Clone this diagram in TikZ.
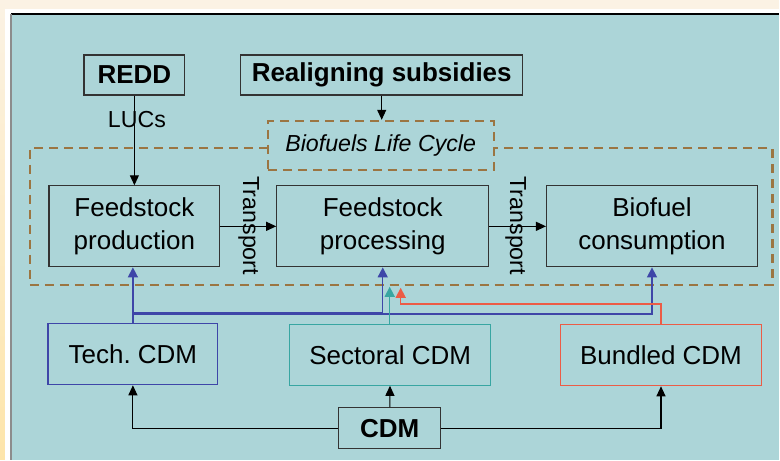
\documentclass[tikz,border=0pt]{standalone}
\usepackage{fontspec}
\setmainfont{Liberation Sans}
\usetikzlibrary{arrows.meta}

\definecolor{panelbg}{RGB}{172,213,216}
\definecolor{creambg}{RGB}{251,242,228}
\definecolor{creamlow}{RGB}{253,229,170}
\definecolor{cyclebrown}{RGB}{155,117,66}
\definecolor{techblue}{RGB}{62,70,168}
\definecolor{sectteal}{RGB}{56,166,162}
\definecolor{bundred}{RGB}{236,92,70}

\begin{document}
\begin{tikzpicture}[x=0.5pt,y=-0.5pt]
        \tikzstyle{every node}=[inner sep=0pt, align=center]
        \tikzstyle{box}=[draw=black!80, line width=0.6pt, font=\fontsize{13}{16.5}\selectfont]
        \tikzstyle{boldbox}=[box, font=\fontsize{13}{16}\selectfont\bfseries]
        \tikzstyle{cdmbox}=[box, minimum width=100.5pt, minimum height=30.5pt]
        \tikzstyle{tag}=[font=\fontsize{11.6}{14}\selectfont]
        \tikzstyle{cycleline}=[draw=cyclebrown, line width=1.1pt, dash pattern=on 4.5pt off 3pt]
        \tikzstyle{link}=[line width=0.55pt, -{Triangle[length=5pt,width=4.5pt]}]
        \tikzstyle{colorlink}=[line width=0.75pt, -{Triangle[length=5pt,width=5pt]}]

        % background
        \fill[creambg] (0,0) rectangle (780,460);
        \shade[top color=creambg, bottom color=creamlow] (0,0) rectangle (5,460);
        \fill[white] (5,9) rectangle (780,460);
        \fill[panelbg] (11,14) rectangle (780,460);
        \draw[black, line width=0.6pt] (11,14) -- (780,14);
        \draw[black!45, line width=0.6pt] (11,14) -- (11,460);
        \useasboundingbox (0,0) rectangle (780,460);

        % top boxes
        \node[boldbox, minimum width=50.5pt, minimum height=20pt] (redd) at (134.5,75) {REDD};
        \node[boldbox, minimum width=141pt, minimum height=20pt] (subsidies) at (382,75) {Realigning subsidies};

        % life cycle frame
        \draw[cycleline] (268,148) -- (30,148) -- (30,285) -- (773,285) -- (773,148) -- (494,148);
        \node[cycleline, minimum width=113pt, minimum height=24.5pt, tag, font=\fontsize{11.6}{14}\selectfont\itshape] (cycle) at (381,145.5) {Biofuels Life Cycle};

        \node[box, minimum width=85.5pt, minimum height=40.5pt] (production) at (134.5,226.5) {Feedstock\\production};
        \node[box, minimum width=106pt, minimum height=40.5pt] (processing) at (383,226.5) {Feedstock\\processing};
        \node[box, minimum width=105.5pt, minimum height=40.5pt] (consumption) at (652.5,226.5) {Biofuel\\consumption};

        % CDM boxes
        \node[cdmbox, draw=techblue, minimum width=85pt] (tech) at (133,354.5) {Tech.\ CDM};
        \node[cdmbox, draw=sectteal] (sectoral) at (390.5,355) {Sectoral CDM};
        \node[cdmbox, draw=bundred] (bundled) at (661.5,355.5) {Bundled CDM};
        \node[boldbox, minimum width=51pt, minimum height=20.5pt] (cdm) at (390,428.5) {CDM};

        % black links
        \draw[link] (redd) -- (production);
        \node[tag] (lucs) at (137,120) {LUCs};
        \draw[link] (subsidies.south) -- (subsidies.south |- cycle.north);
        \draw[link] (production) -- (processing);
        \draw[link] (processing) -- (consumption);
        \node[tag, rotate=-90] (transport1) at (249,226) {Transport};
        \node[tag, rotate=-90] (transport2) at (516,226) {Transport};
        \draw[link] (cdm) -| (tech);
        \draw[link] (cdm) -- (sectoral);
        \draw[link] (cdm) -| (bundled);

        % coloured links
        \coordinate (bluejoin) at (133,313);
        \coordinate (tealend) at (390,287);
        \coordinate (redturn) at (401,304);
        \draw[colorlink, techblue] (tech.north) -- (tech.north |- production.south);
        \draw[colorlink, techblue] (bluejoin) -| (processing.south);
        \draw[colorlink, techblue] ([yshift=-0.5pt]bluejoin) -| (consumption.south);
        \draw[colorlink, sectteal] (sectoral.north -| tealend) -- (tealend);
        \draw[colorlink, bundred] (bundled.north) |- (redturn) -- (redturn |- 0,288);
    \end{tikzpicture}
\end{document}
